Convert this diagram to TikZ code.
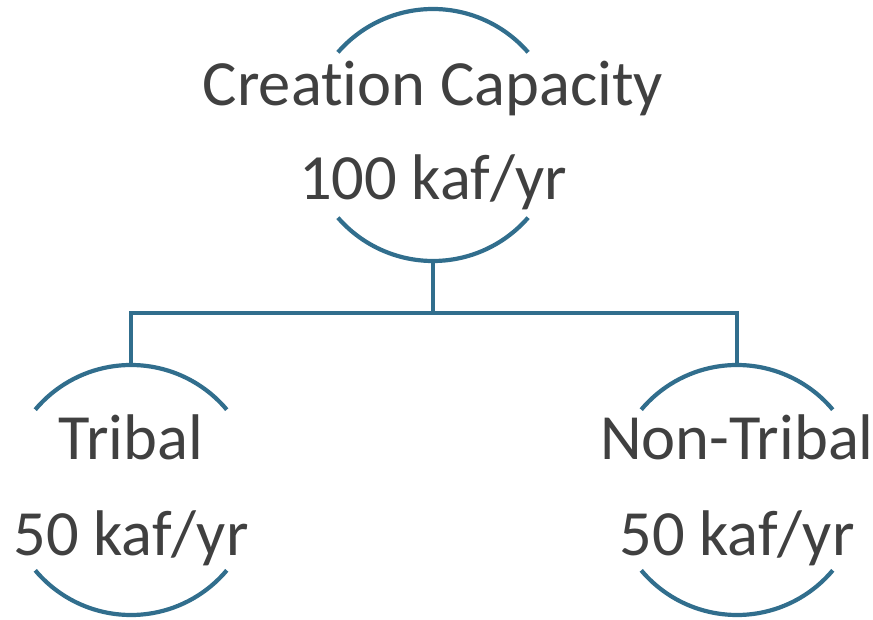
\documentclass[tikz,border=0pt]{standalone}
\usepackage{fontspec}
\setmainfont[Ligatures=NoCommon]{Carlito}
\definecolor{linec}{RGB}{49,110,141}
\definecolor{textc}{RGB}{64,64,64}
\begin{document}
\begin{tikzpicture}[x=1pt,y=1pt,
  ring/.style={circle,draw=none,inner sep=0pt,outer sep=0pt,minimum size=#1},
  arcline/.style={draw=linec,line width=4.2pt},
  lbl/.style={anchor=base,text=textc,font=\fontsize{64.5}{72}\selectfont,inner sep=0pt}]
\useasboundingbox (0,0) rectangle (873,619);
\node[ring=252pt] (top) at (433,484) {};
\node[ring=250pt] (trib) at (131,129) {};
\node[ring=250pt] (non) at (737,129) {};
\coordinate (j) at (433,306);
% arcs
\draw[arcline] (top.41) arc[start angle=41,end angle=139,radius=126];
\draw[arcline] (top.221) arc[start angle=221,end angle=319,radius=126];
\draw[arcline] (trib.40) arc[start angle=40,end angle=140,radius=125];
\draw[arcline] (trib.220) arc[start angle=220,end angle=320,radius=125];
\draw[arcline] (non.40) arc[start angle=40,end angle=140,radius=125];
\draw[arcline] (non.220) arc[start angle=220,end angle=320,radius=125];
% connectors
\draw[arcline] (top.south) -- (j);
\draw[arcline] (trib.north) |- (j) -| (non.north);
% labels
\node[lbl] (t1) at (433,513) {Creation Capacity};
\node[lbl] (t2) at (433,419) {100 kaf/yr};
\node[lbl] (l1) at (131,159) {Tribal};
\node[lbl] (l2) at (131,64) {50 kaf/yr};
\node[lbl] (r1) at (737,159) {Non-Tribal};
\node[lbl] (r2) at (737,64) {50 kaf/yr};
\end{tikzpicture}
\end{document}
